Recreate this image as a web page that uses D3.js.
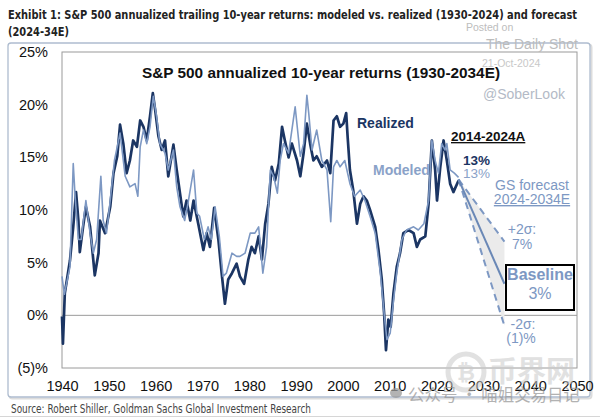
<!DOCTYPE html>
<html><head><meta charset="utf-8">
<script src="https://cdn.jsdelivr.net/npm/d3@7"></script>
<style>body{margin:0;background:#fff} svg{display:block;font-family:"Liberation Sans",Arial,sans-serif}</style>
</head><body><svg id="c" width="600" height="419"></svg>
<script>
// ---- data ----
const realizedYears = [1940.0,1940.2,1940.6,1941.7,1942.4,1943.0,1943.5,1943.8,1944.5,1945.1,1946.0,1947.0,1947.8,1948.1,1949.2,1950.3,1951.0,1951.8,1952.4,1953.1,1953.8,1954.5,1955.2,1956.0,1956.7,1957.4,1958.1,1958.8,1959.4,1959.9,1960.6,1961.3,1962.0,1962.7,1963.8,1964.5,1965.2,1965.9,1966.6,1967.4,1968.1,1969.1,1970.2,1970.9,1971.6,1972.5,1973.4,1974.1,1974.8,1975.5,1976.3,1977.3,1978.0,1978.9,1979.8,1980.5,1981.2,1982.0,1982.7,1983.4,1984.1,1984.8,1985.5,1986.3,1987.0,1987.6,1988.4,1989.1,1990.2,1990.9,1991.6,1992.3,1993.0,1993.7,1994.4,1995.5,1996.6,1997.3,1998.0,1998.7,1999.4,2000.1,2000.7,2001.0,2001.5,2002.2,2003.0,2003.7,2004.4,2005.1,2005.8,2006.9,2007.6,2008.3,2008.8,2009.2,2009.7,2010.2,2010.8,2011.5,2012.2,2012.9,2014.0,2015.1,2015.8,2016.5,2017.6,2018.3,2019.0,2019.7,2020.1,2020.8,2021.5,2022.2,2022.9,2023.6,2024.7];
const realizedValues = [-0.1,-2.7,2.1,5.2,8.4,11.7,9.0,6.0,8.4,10.3,8.4,3.8,5.9,9.0,7.8,10.3,13.5,15.1,18.1,16.3,13.5,14.7,16.6,16.0,18.5,17.9,16.6,18.9,21.1,19.5,17.0,15.7,16.6,13.2,16.2,13.8,11.6,9.4,10.9,9.0,10.9,8.7,6.2,7.8,6.5,10.2,7.2,4.0,1.1,3.4,4.0,4.9,3.7,3.0,5.3,6.5,5.9,7.5,5.3,8.7,10.6,14.1,12.8,14.4,17.9,16.6,15.0,16.3,14.7,13.2,15.4,18.2,16.3,14.7,15.1,14.1,14.7,13.5,18.5,18.9,17.9,18.2,19.2,17.0,13.8,11.9,8.7,10.6,11.3,10.9,10.0,8.4,6.2,3.4,0.2,-3.3,-0.4,-1.1,2.1,4.6,5.9,7.8,8.1,7.8,6.5,7.2,7.5,10.6,16.6,13.8,10.9,14.1,16.6,14.7,12.5,11.7,12.8];

const modeledYears = [1940.0,1940.5,1941.7,1942.4,1942.8,1943.5,1944.1,1945.1,1946.0,1946.7,1947.4,1948.3,1948.8,1949.5,1950.3,1951.2,1952.4,1953.5,1954.5,1955.6,1956.2,1956.7,1957.4,1958.1,1958.8,1959.5,1960.2,1960.9,1962.0,1962.7,1963.8,1964.5,1965.2,1966.2,1966.9,1968.1,1968.8,1969.4,1970.4,1971.2,1971.9,1972.7,1973.6,1974.4,1975.1,1976.3,1977.3,1978.0,1979.1,1980.2,1981.2,1982.0,1982.9,1983.7,1984.5,1985.2,1986.0,1986.6,1987.3,1988.4,1989.8,1990.9,1991.6,1992.3,1992.7,1993.4,1994.4,1995.5,1996.6,1997.4,1998.0,1998.7,1999.4,2000.4,2001.5,2002.5,2003.7,2004.7,2005.8,2006.9,2008.0,2008.8,2009.4,2010.1,2010.8,2011.5,2012.6,2013.6,2015.1,2016.1,2017.3,2018.3,2019.0,2019.7,2020.4,2021.1,2021.8,2022.2,2022.9,2023.8,2024.7];
const modeledValues = [3.7,2.0,4.6,14.4,11.3,7.2,7.2,10.9,7.8,5.9,7.2,13.2,9.0,7.8,10.9,14.7,17.3,13.2,12.2,12.5,11.3,16.0,17.6,16.3,17.9,20.8,18.9,16.3,15.4,13.8,15.7,12.2,10.3,9.0,10.6,13.8,9.7,9.4,7.2,8.4,7.2,10.3,7.5,3.7,4.0,5.9,5.6,5.6,5.9,7.8,7.8,8.4,4.0,6.5,13.8,13.2,11.6,14.7,16.3,15.4,19.8,15.1,16.3,20.9,19.2,15.7,17.6,14.7,13.8,8.9,14.1,14.7,14.1,14.7,12.5,11.3,11.9,10.9,9.4,7.8,4.0,0.2,-2.3,-1.7,1.4,4.0,7.2,8.1,8.4,8.1,8.7,10.9,16.6,14.7,13.5,16.3,15.7,16.3,13.8,13.5,13.1];

const forecastYears = [2024.7, 2034.5];
const baselineValues = [12.9, 3];
const upperValues = [12.9, 7];
const lowerValues = [12.9, -1];

const yTicks = [25,20,15,10,5,0,-5];
const xTicks = [1940,1950,1960,1970,1980,1990,2000,2010,2020,2030,2040,2050];

// ---- drawing ----
const svg = d3.select('#c');
const x = d3.scaleLinear().domain([1940,2050]).range([62,577]);
const y = d3.scaleLinear().domain([-5,25]).range([368,52]);
const dark = '#1b3563', light = '#7d98c3';
const condensed = '"Liberation Sans Narrow","DejaVu Sans Condensed","Roboto Condensed",Arial,sans-serif';

// page title
svg.append('text').attr('x',8).attr('y',19).attr('font-family',condensed).attr('font-stretch','condensed')
  .attr('font-weight','bold').attr('font-size',13).attr('fill','#222')
  .attr('textLength',569).attr('lengthAdjust','spacingAndGlyphs')
  .text('Exhibit 1: S&P 500 annualized trailing 10-year returns: modeled vs. realized (1930-2024) and forecast');
svg.append('text').attr('x',8).attr('y',36).attr('font-family',condensed).attr('font-stretch','condensed')
  .attr('font-weight','bold').attr('font-size',13).attr('fill','#222')
  .attr('textLength',61).attr('lengthAdjust','spacingAndGlyphs').text('(2024-34E)');

// outer frame
svg.append('rect').attr('x',9.5).attr('y',44.5).attr('width',582).attr('height',354).attr('rx',3)
  .attr('fill','none').attr('stroke','#dcdcdc').attr('stroke-width',2);
svg.append('rect').attr('x',8).attr('y',43).attr('width',582).attr('height',354).attr('rx',3)
  .attr('fill','#fff').attr('stroke','#aebccf').attr('stroke-width',1.3);

// plot box
svg.append('rect').attr('x',x(1940)).attr('y',y(25)).attr('width',x(2050)-x(1940)).attr('height',y(-5)-y(25))
  .attr('fill','none').attr('stroke','#9a9a9a').attr('stroke-width',1);
svg.append('line').attr('x1',x(1940)).attr('x2',x(2050)).attr('y1',y(0)).attr('y2',y(0))
  .attr('stroke','#9a9a9a').attr('stroke-width',1);

// axes
const fmtY = v => v < 0 ? `(${-v})%` : `${v}%`;
const ya = svg.append('g').attr('transform',`translate(${x(1940)},0)`)
  .call(d3.axisLeft(y).tickValues(yTicks).tickFormat(fmtY).tickSize(0).tickPadding(14));
ya.select('.domain').remove();
ya.selectAll('text').attr('font-size',14.5).attr('fill','#111').attr('font-family','"Liberation Sans",Arial,sans-serif');
const xa = svg.append('g').attr('transform',`translate(0,${y(-5)})`)
  .call(d3.axisBottom(x).tickValues(xTicks).tickFormat(d3.format('d')).tickSize(0).tickPadding(13));
xa.select('.domain').remove();
xa.selectAll('text').attr('font-size',14.5).attr('fill','#111').attr('font-family','"Liberation Sans",Arial,sans-serif');

// forecast band
const fIdx = d3.range(forecastYears.length);
const band = d3.area().x(i => x(forecastYears[i])).y0(i => y(lowerValues[i])).y1(i => y(upperValues[i]));
svg.append('path').attr('d',band(fIdx)).attr('fill','#ebebeb');

// series
const line = (xs, vs) => d3.line().x(i => x(xs[i])).y(i => y(vs[i]))(d3.range(xs.length));
svg.append('path').attr('d',line(realizedYears,realizedValues)).attr('fill','none')
  .attr('stroke',dark).attr('stroke-width',2.7).attr('stroke-linejoin','round');
svg.append('path').attr('d',line(modeledYears,modeledValues)).attr('fill','none')
  .attr('stroke',light).attr('stroke-width',1.6).attr('stroke-linejoin','round');

// forecast lines
svg.append('path').attr('d',line(forecastYears,upperValues)).attr('fill','none')
  .attr('stroke',light).attr('stroke-width',2).attr('stroke-dasharray','7,5');
svg.append('path').attr('d',line(forecastYears,lowerValues)).attr('fill','none')
  .attr('stroke',light).attr('stroke-width',2).attr('stroke-dasharray','7,5');
svg.append('path').attr('d',line(forecastYears,baselineValues)).attr('fill','none')
  .attr('stroke','#6a88b6').attr('stroke-width',2);

// chart title
svg.append('text').attr('x',321).attr('y',78).attr('text-anchor','middle').attr('font-weight','bold')
  .attr('font-size',15).attr('fill','#111').attr('textLength',358).attr('lengthAdjust','spacingAndGlyphs')
  .text('S&P 500 annualized 10-year returns (1930-2034E)');

// labels
const lbl = (tx,ty,t,o) => {
  const e = svg.append('text').attr('x',tx).attr('y',ty).attr('font-size',o.size||14)
    .attr('fill',o.fill||'#111').attr('font-weight',o.bold?'bold':'normal')
    .attr('text-anchor',o.anchor||'start').text(t);
  if (o.underline) e.attr('text-decoration','underline');
  return e;
};
lbl(357,128,'Realized',{bold:true,fill:dark});
lbl(373,175,'Modeled',{bold:true,fill:'#8aa2c8'});
lbl(451,141,'2014-2024A',{bold:true,fill:'#111',size:13.5,underline:true});
lbl(463,165,'13%',{bold:true,fill:dark,size:13.5});
lbl(463,178,'13%',{fill:'#8aa2c8',size:13.5});
lbl(532,190,'GS forecast',{fill:light,size:14,anchor:'middle'});
lbl(532,204,'2024-2034E',{fill:light,size:14,anchor:'middle',underline:true});
lbl(522,234,'+2σ:',{fill:light,size:14,anchor:'middle'});
lbl(522,249,'7%',{fill:light,size:14,anchor:'middle'});
svg.append('rect').attr('x',506).attr('y',265).attr('width',68).attr('height',45)
  .attr('fill','#fff').attr('stroke','#000').attr('stroke-width',2);
lbl(540,280,'Baseline',{fill:light,size:16,anchor:'middle',bold:true});
lbl(540,299,'3%',{fill:light,size:16,anchor:'middle'});
lbl(523,329,'-2σ:',{fill:light,size:14,anchor:'middle'});
lbl(521,343,'(1)%',{fill:light,size:14,anchor:'middle'});

// watermarks
svg.append('text').attr('x',466).attr('y',31).attr('font-size',10.5).attr('fill','#bdbdbd').text('Posted on');
svg.append('text').attr('x',486).attr('y',49).attr('font-size',14).attr('fill','#bcbcbc').text('The Daily Shot');
svg.append('text').attr('x',482).attr('y',67).attr('font-size',10.5).attr('fill','#c8c8c8').text('21-Oct-2024');
svg.append('text').attr('x',483).attr('y',99).attr('font-size',14).attr('fill','#b3bac6').text('@SoberLook');

const wm = svg.append('g').attr('opacity',0.55);
wm.append('circle').attr('cx',466).attr('cy',372).attr('r',18).attr('fill','none').attr('stroke','#c9c9c9').attr('stroke-width',5);
wm.append('text').attr('x',466).attr('y',380).attr('text-anchor','middle').attr('font-size',22).attr('font-weight','bold').attr('fill','#c9c9c9').text('₿');
wm.append('text').attr('x',488).attr('y',382).attr('font-size',29).attr('font-weight','bold')
  .attr('font-family','"Noto Sans CJK SC",sans-serif').attr('fill','#c9c9c9').text('币界网');
const wc = svg.append('g').attr('opacity',0.75);
wc.append('ellipse').attr('cx',396).attr('cy',393).attr('rx',6).attr('ry',5).attr('fill','#9a9a9a');
wc.append('text').attr('x',408).attr('y',401).attr('font-size',16.5).attr('font-family','"Noto Sans CJK SC",sans-serif')
  .attr('fill','#999').attr('textLength',172).attr('lengthAdjust','spacingAndGlyphs').text('公众号 · 喵姐交易日记');

// source
svg.append('text').attr('x',11).attr('y',413).attr('font-family',condensed).attr('font-stretch','condensed')
  .attr('font-size',11.5).attr('fill','#444').attr('textLength',300).attr('lengthAdjust','spacingAndGlyphs')
  .text('Source: Robert Shiller, Goldman Sachs Global Investment Research');
svg.append('line').attr('x1',0).attr('x2',600).attr('y1',416.5).attr('y2',416.5).attr('stroke','#d6d6d6');
</script></body></html>
